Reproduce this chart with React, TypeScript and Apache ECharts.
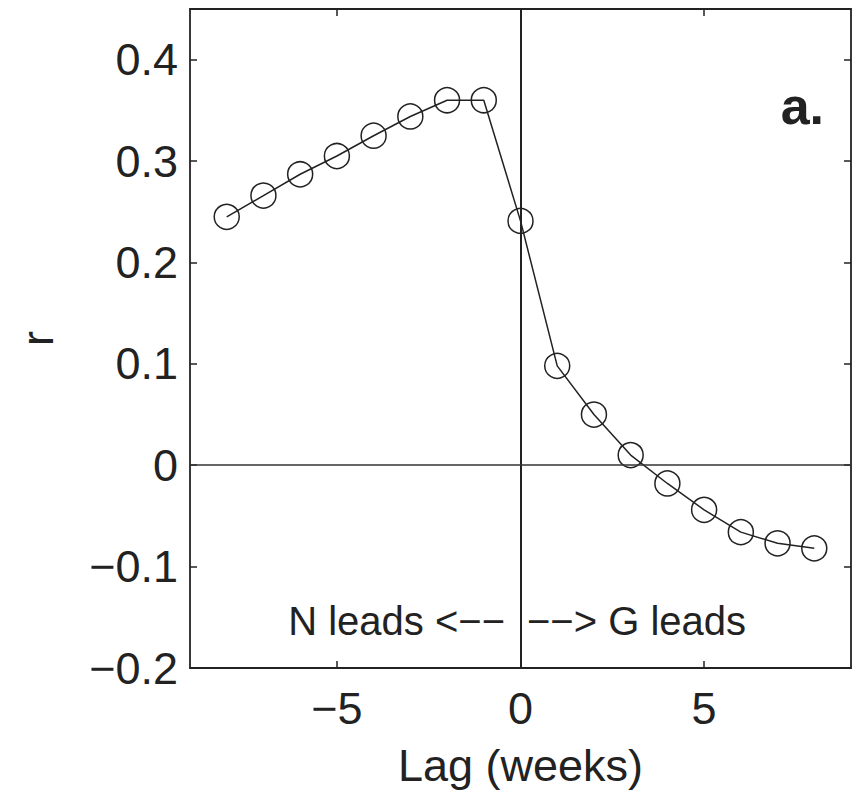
import React, { useEffect, useRef } from "react";
import * as echarts from "echarts";

const lags = [-8, -7, -6, -5, -4, -3, -2, -1, 0, 1, 2, 3, 4, 5, 6, 7, 8];
const rValues = [0.245, 0.266, 0.287, 0.305, 0.325, 0.344, 0.36, 0.36, 0.241, 0.098, 0.05, 0.01, -0.018, -0.044, -0.066, -0.077, -0.082];
const xTicks = [-5, 0, 5];
const yTicks = [-0.2, -0.1, 0, 0.1, 0.2, 0.3, 0.4];

const FONT = "Liberation Sans, Arial, Helvetica, sans-serif";
const INK = "#222";

const fmtX = (v: number) => (v < 0 ? "\u2212" + Math.abs(v) : String(v));
const fmtY = (v: number) => {
  if (Math.abs(v) < 1e-9) return "0";
  return (v < 0 ? "\u2212" : "") + Math.abs(v).toFixed(1);
};

export default function App() {
  const ref = useRef<HTMLDivElement>(null);
  useEffect(() => {
    document.body.style.margin = "0";
    const chart = echarts.init(ref.current!, undefined, { renderer: "svg" });
    const data = lags.map((x, i) => [x, rValues[i]]);
    const axisLine = { show: true, onZero: false, lineStyle: { color: INK, width: 1.8 } };
    const tickStyle = { show: true, inside: true, length: 7, lineStyle: { color: INK, width: 1.5 } };
    chart.setOption({
      animation: false,
      backgroundColor: "#fff",
      grid: { left: 190, right: 8, top: 9, bottom: 123, containLabel: false },
      xAxis: [
        {
          type: "value",
          min: -9,
          max: 9,
          position: "bottom",
          axisLine,
          axisTick: { ...tickStyle, customValues: xTicks },
          axisLabel: {
            customValues: xTicks,
            formatter: fmtX,
            color: INK,
            fontFamily: FONT,
            fontSize: 45,
            margin: 18,
          },
          splitLine: { show: false },
          name: "Lag (weeks)",
          nameLocation: "middle",
          nameGap: 75,
          nameTextStyle: { color: INK, fontFamily: FONT, fontSize: 45 },
        },
        {
          type: "value",
          min: -9,
          max: 9,
          position: "top",
          axisLine,
          axisTick: { ...tickStyle, customValues: xTicks },
          axisLabel: { show: false },
          splitLine: { show: false },
        },
      ],
      yAxis: [
        {
          type: "value",
          min: -0.2,
          max: 0.45,
          position: "left",
          axisLine,
          axisTick: { ...tickStyle, customValues: yTicks },
          axisLabel: {
            customValues: yTicks,
            formatter: fmtY,
            color: INK,
            fontFamily: FONT,
            fontSize: 45,
            margin: 12,
          },
          splitLine: { show: false },
          name: "r",
          nameLocation: "middle",
          nameRotate: 90,
          nameGap: 130,
          nameTextStyle: { color: INK, fontFamily: FONT, fontSize: 45 },
        },
        {
          type: "value",
          min: -0.2,
          max: 0.45,
          position: "right",
          axisLine,
          axisTick: { ...tickStyle, customValues: yTicks },
          axisLabel: { show: false },
          splitLine: { show: false },
        },
      ],
      series: [
        {
          type: "line",
          data,
          xAxisIndex: 0,
          yAxisIndex: 0,
          symbol: "circle",
          symbolSize: 25,
          showAllSymbol: true,
          lineStyle: { color: INK, width: 1.5 },
          itemStyle: { color: "rgba(0,0,0,0)", borderColor: INK, borderWidth: 1.5 },
          z: 3,
          markLine: {
            silent: true,
            symbol: "none",
            label: { show: false },
            animation: false,
            data: [
              { xAxis: 0, lineStyle: { color: INK, width: 2, type: "solid" } },
              { yAxis: 0, lineStyle: { color: "#333", width: 1.5, type: "solid" } },
            ],
          },
        },
      ],
      graphic: [
        {
          type: "text",
          x: 505,
          y: 621,
          style: {
            text: "N leads <\u2212\u2212",
            fill: INK,
            font: `40px ${FONT}`,
            align: "right",
            verticalAlign: "middle",
          },
        },
        {
          type: "text",
          x: 527,
          y: 621,
          style: {
            text: "\u2212\u2212> G leads",
            fill: INK,
            font: `40px ${FONT}`,
            align: "left",
            verticalAlign: "middle",
          },
        },
        {
          type: "text",
          x: 824,
          y: 106,
          style: {
            text: "a.",
            fill: INK,
            font: `bold 52px ${FONT}`,
            align: "right",
            verticalAlign: "middle",
          },
        },
      ],
    });
    return () => chart.dispose();
  }, []);
  return <div ref={ref} style={{ width: 859, height: 793 }} />;
}
